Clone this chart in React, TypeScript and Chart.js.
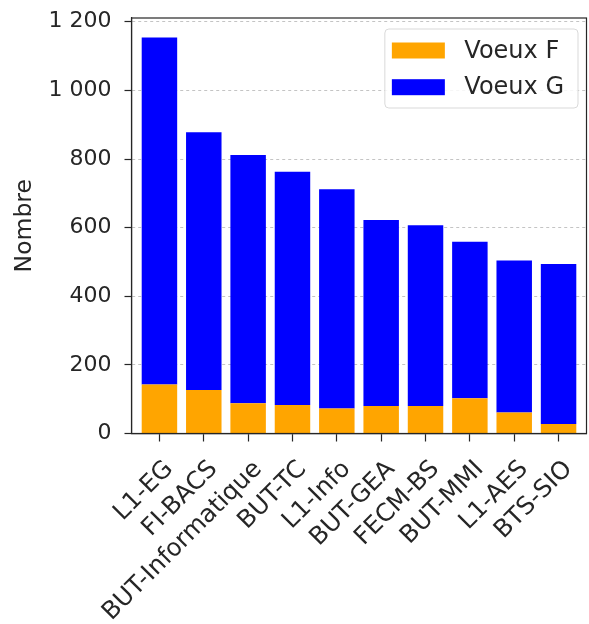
import React, { useEffect, useRef } from 'react';
import { Chart, CategoryScale, registerables } from 'chart.js';

const categories = ['L1-EG', 'FI-BACS', 'BUT-Informatique', 'BUT-TC', 'L1-Info', 'BUT-GEA', 'FECM-BS', 'BUT-MMI', 'L1-AES', 'BTS-SIO'];
const voeuxF = [143, 127, 88, 83, 73, 80, 80, 103, 61, 28];
const voeuxG = [1011, 751, 724, 680, 639, 542, 527, 456, 443, 466];
const seriesLabels = ['Voeux F', 'Voeux G'];
const seriesColors = ['#FFA500', '#0000FF'];
const yTickValues = [0, 200, 400, 600, 800, 1000, 1200];
const yMax = 1211;
const yTitle = 'Nombre';

const FONT = "'DejaVu Sans', sans-serif";
const INK = '#262626';
const FS = 22;
const FS_X = 24.5;
const FS_LEGEND = 24;
const FS_TITLE = 23.5;
const X_MARGIN = 0.63; // category-units of empty space at each side (matplotlib-like margins)

class PaddedCategoryScale extends CategoryScale {
  static id = 'paddedCategory';
  configure() {
    super.configure();
    const s: any = this;
    s._startValue = s.min - X_MARGIN;
    s._valueRange = Math.max(s.max - s.min, 0) + 2 * X_MARGIN;
  }
}

Chart.register(...registerables, PaddedCategoryScale);

function fmt(v: number): string {
  const s = String(Math.round(v));
  return s.replace(/\B(?=(\d{3})+(?!\d))/g, ' ');
}

const framePlugin = {
  id: 'frame',
  afterDatasetsDraw(chart: any) {
    const { ctx, chartArea: a } = chart;
    ctx.save();
    ctx.strokeStyle = INK;
    ctx.lineWidth = 1.2;
    ctx.setLineDash([]);
    ctx.strokeRect(a.left, a.top, a.right - a.left, a.bottom - a.top);
    ctx.restore();
  },
};

const legendPlugin = {
  id: 'boxLegend',
  afterDraw(chart: any) {
    const { ctx, chartArea: a } = chart;
    const ds = chart.data.datasets;
    ctx.save();
    ctx.font = `${FS_LEGEND}px ${FONT}`;
    const patchW = 53;
    const patchH = 16;
    const rowH = 36.7;
    let textW = 0;
    ds.forEach((d: any) => { textW = Math.max(textW, ctx.measureText(d.label).width); });
    const padL = 7;
    const gap = 19.5;
    const padR = 14;
    const boxW = padL + patchW + gap + textW + padR;
    const boxH = 79;
    const right = a.right - 8.5;
    const top = a.top + 11;
    const left = right - boxW;
    const r = 4;
    ctx.beginPath();
    ctx.moveTo(left + r, top);
    ctx.lineTo(left + boxW - r, top);
    ctx.quadraticCurveTo(left + boxW, top, left + boxW, top + r);
    ctx.lineTo(left + boxW, top + boxH - r);
    ctx.quadraticCurveTo(left + boxW, top + boxH, left + boxW - r, top + boxH);
    ctx.lineTo(left + r, top + boxH);
    ctx.quadraticCurveTo(left, top + boxH, left, top + boxH - r);
    ctx.lineTo(left, top + r);
    ctx.quadraticCurveTo(left, top, left + r, top);
    ctx.closePath();
    ctx.fillStyle = 'rgba(255,255,255,0.85)';
    ctx.fill();
    ctx.strokeStyle = '#d9d9d9';
    ctx.lineWidth = 1;
    ctx.stroke();
    ds.forEach((d: any, i: number) => {
      const cy = top + 21.5 + i * rowH;
      ctx.fillStyle = d.backgroundColor;
      ctx.fillRect(left + padL, cy - patchH / 2, patchW, patchH);
      ctx.fillStyle = INK;
      ctx.textBaseline = 'middle';
      ctx.textAlign = 'left';
      ctx.fillText(d.label, left + padL + patchW + gap, cy + 1);
    });
    ctx.restore();
  },
};

export default function App() {
  const ref = useRef<HTMLCanvasElement | null>(null);

  useEffect(() => {
    if (!ref.current) return;
    const chart = new Chart(ref.current, {
      type: 'bar',
      data: {
        labels: categories,
        datasets: [
          { label: seriesLabels[0], data: voeuxF, backgroundColor: seriesColors[0], borderWidth: 0 },
          { label: seriesLabels[1], data: voeuxG, backgroundColor: seriesColors[1], borderWidth: 0 },
        ],
      },
      options: {
        animation: false,
        responsive: true,
        maintainAspectRatio: false,
        datasets: { bar: { barPercentage: 0.8, categoryPercentage: 1 } },
        layout: { padding: { top: 18, right: 2.5, left: 0, bottom: 0 } },
        plugins: {
          legend: { display: false },
          tooltip: { enabled: false },
        },
        scales: {
          x: {
            type: 'paddedCategory',
            stacked: true,
            offset: false,
            grid: {
              display: true,
              drawOnChartArea: false,
              drawTicks: true,
              tickLength: 8,
              offset: false,
              color: INK,
              tickColor: INK,
              tickWidth: 1.2,
            },
            border: { display: true, color: INK, width: 1.2 },
            ticks: {
              autoSkip: false,
              minRotation: 45,
              maxRotation: 45,
              padding: 10,
              labelOffset: 10,
              color: INK,
              font: { family: FONT, size: FS_X, lineHeight: 1.6 },
            },
            afterFit(scale: any) {
              scale.height = 190.5;
              scale.paddingLeft = 0;
              scale.paddingRight = 0;
              scale.paddingTop = 0;
              scale.paddingBottom = 0;
            },
          },
          y: {
            stacked: true,
            min: 0,
            max: yMax,
            afterBuildTicks(scale: any) {
              scale.ticks = yTickValues.map((v) => ({ value: v }));
            },
            grid: {
              display: true,
              drawOnChartArea: true,
              color: 'rgba(176,176,176,0.75)',
              lineWidth: 1,
              tickBorderDash: [],
              tickColor: INK,
              tickLength: 7,
              tickWidth: 1.2,
            },
            border: { display: true, color: INK, width: 1.2, dash: [3, 3] },
            ticks: {
              padding: 13,
              color: INK,
              font: { family: FONT, size: FS },
              callback: (v: any) => fmt(Number(v)),
            },
            title: {
              display: true,
              text: yTitle,
              color: INK,
              font: { family: FONT, size: FS_TITLE },
              padding: { top: 11, bottom: 0 },
            },
            afterFit(scale: any) {
              scale.width = 131.5;
              scale.paddingLeft = 0;
              scale.paddingRight = 0;
              scale.paddingTop = 0;
              scale.paddingBottom = 0;
            },
          },
        },
      },
      plugins: [framePlugin, legendPlugin],
    });
    return () => chart.destroy();
  }, []);

  return (
    <div style={{ position: 'fixed', left: 0, top: 0, width: 589, height: 624, background: '#fff' }}>
      <canvas ref={ref} />
    </div>
  );
}
